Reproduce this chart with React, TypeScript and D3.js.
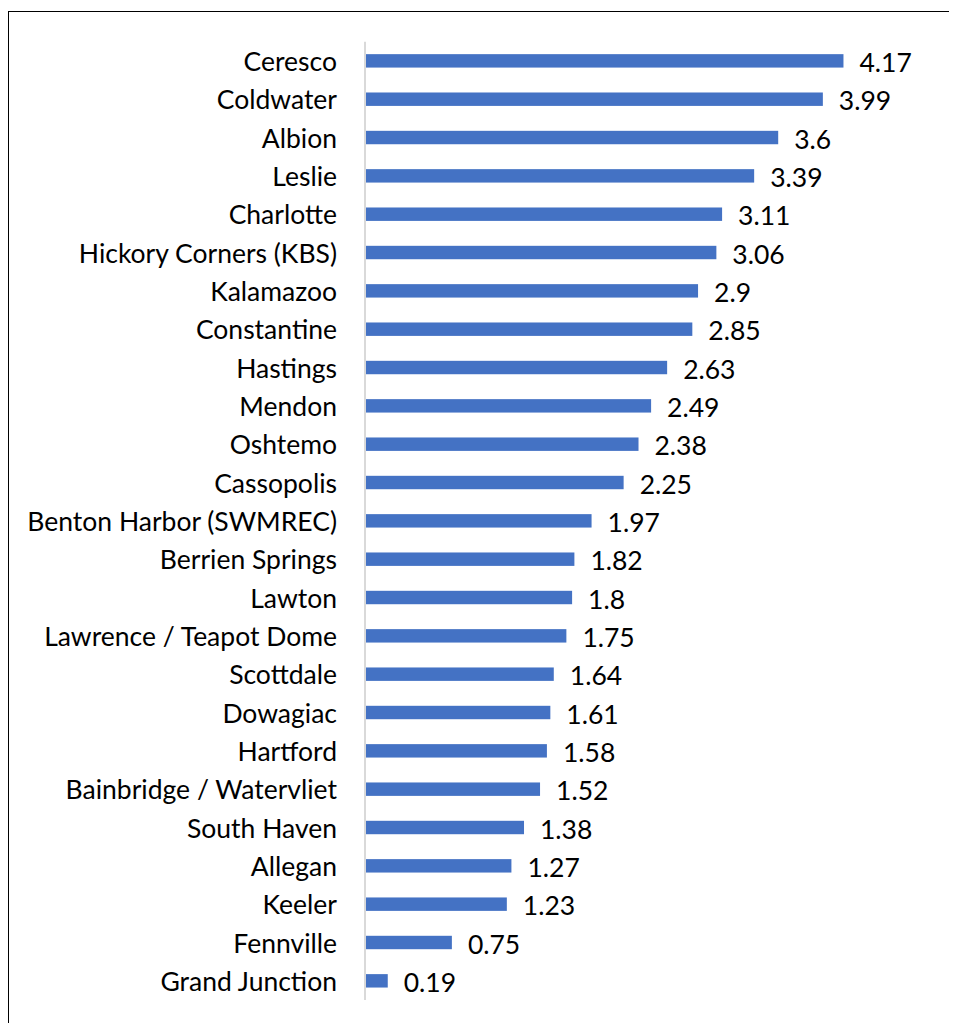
import React from "react";
import * as d3 from "d3";

const categories = [
  "Ceresco", "Coldwater", "Albion", "Leslie", "Charlotte", "Hickory Corners (KBS)",
  "Kalamazoo", "Constantine", "Hastings", "Mendon", "Oshtemo", "Cassopolis",
  "Benton Harbor (SWMREC)", "Berrien Springs", "Lawton", "Lawrence / Teapot Dome",
  "Scottdale", "Dowagiac", "Hartford", "Bainbridge / Watervliet", "South Haven",
  "Allegan", "Keeler", "Fennville", "Grand Junction",
];
const values = [
  4.17, 3.99, 3.6, 3.39, 3.11, 3.06, 2.9, 2.85, 2.63, 2.49, 2.38, 2.25, 1.97,
  1.82, 1.8, 1.75, 1.64, 1.61, 1.58, 1.52, 1.38, 1.27, 1.23, 0.75, 0.19,
];

const FONT = "Lato, 'Noto Sans', sans-serif";

export default function App() {
  const W = 949;
  const H = 1015;
  const x = d3.scaleLinear().domain([0, 4.5]).range([366, 366 + 4.5 * 114.5]);
  const y = d3
    .scaleBand<string>()
    .domain(categories)
    .range([41.7, 1000])
    .paddingInner(0.65)
    .paddingOuter(0.325);
  const fs = 26.5;
  return (
    <svg width={W} height={H} style={{ display: "block" }}>
      <g transform="translate(-8,-8)">
        <rect x={8.5} y={11.5} width={1200} height={1200} fill="none" stroke="#000" strokeWidth={1} />
        {categories.map((c, i) => {
          const yy = y(c)!;
          const bw = y.bandwidth();
          const cy = yy + bw / 2;
          return (
            <g key={c}>
              <rect x={x(0)} y={yy} width={x(values[i]) - x(0)} height={bw} fill="#4472C4" />
              <text x={337} y={cy} textAnchor="end" dominantBaseline="central" fontFamily={FONT} fontSize={fs} fill="#000">
                {c}
              </text>
              <text x={x(values[i]) + 16} y={cy + 1} textAnchor="start" dominantBaseline="central" fontFamily={FONT} fontSize={fs} fill="#000">
                {String(values[i])}
              </text>
            </g>
          );
        })}
        <line x1={365} x2={365} y1={41.7} y2={1000} stroke="#d9d9d9" strokeWidth={2} />
      </g>
    </svg>
  );
}
